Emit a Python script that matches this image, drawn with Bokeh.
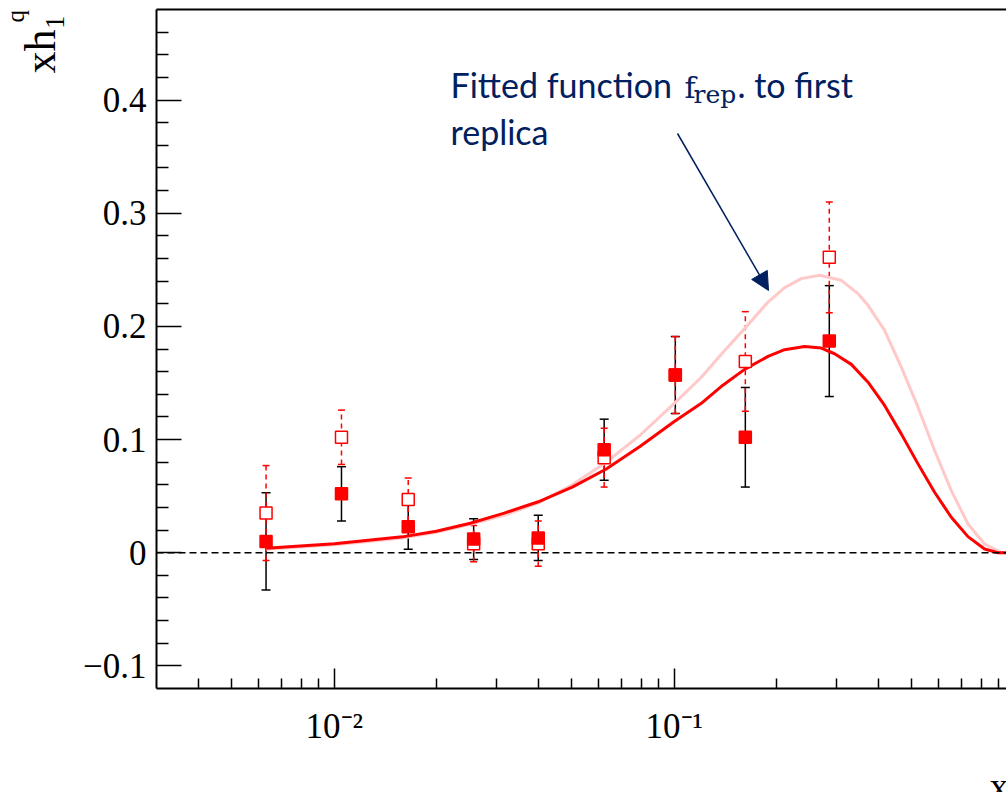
import math
from bokeh.plotting import figure
from bokeh.models import (Range1d, FixedTicker, LogAxis, Span, Label, Arrow,
                          NormalHead, Whisker, TeeHead, ColumnDataSource)
from bokeh.embed import file_html
from bokeh.resources import INLINE

# ---------------- data ----------------
X_PTS = [0.0063, 0.0105, 0.0165, 0.0257, 0.0398, 0.0622, 0.1007, 0.1618, 0.2857]
Y_FILLED = [0.010, 0.052, 0.023, 0.012, 0.013, 0.091, 0.157, 0.102, 0.187]
ERR_FILLED = [0.043, 0.024, 0.020, 0.018, 0.020, 0.027, 0.034, 0.044, 0.049]
Y_OPEN = [0.035, 0.102, 0.047, 0.008, 0.008, 0.084, 0.157, 0.169, 0.261]
ERR_OPEN = [0.042, 0.024, 0.019, 0.016, 0.020, 0.026, 0.034, 0.044, 0.049]

FIT_X = [0.00631, 0.00794, 0.01, 0.01259, 0.01585, 0.01995, 0.02512, 0.03162,
         0.03981, 0.05012, 0.0631, 0.07943, 0.1, 0.1201, 0.1390, 0.1610, 0.1887,
         0.2111, 0.2416, 0.2706, 0.2961, 0.3317, 0.3714, 0.4155, 0.4652, 0.5210,
         0.5830, 0.6527, 0.7307, 0.8177, 0.8957, 1.0]
FIT_Y = [0.004, 0.006, 0.008, 0.011, 0.014, 0.019, 0.026, 0.035, 0.045, 0.058,
         0.074, 0.094, 0.116, 0.132, 0.148, 0.162, 0.1735, 0.1794, 0.1823, 0.1808,
         0.1758, 0.1664, 0.1507, 0.1301, 0.1050, 0.0785, 0.0534, 0.0313, 0.0142,
         0.0033, 0.0, 0.0]
REP_X = [0.00631, 0.00794, 0.01, 0.01259, 0.01585, 0.01995, 0.02512, 0.03162,
         0.03981, 0.05012, 0.0631, 0.07943, 0.1, 0.1201, 0.1390, 0.1610, 0.1887,
         0.2111, 0.2363, 0.2675, 0.3099, 0.3470, 0.3714, 0.4155, 0.4652, 0.5210,
         0.5830, 0.6527, 0.7307, 0.8177, 0.9159, 1.0]
REP_Y = [0.003, 0.005, 0.007, 0.010, 0.013, 0.018, 0.025, 0.033, 0.044, 0.060,
         0.080, 0.104, 0.132, 0.155, 0.177, 0.198, 0.2215, 0.2342, 0.2422, 0.2451,
         0.2407, 0.2289, 0.2186, 0.1965, 0.164, 0.1286, 0.0903, 0.0549, 0.0254,
         0.0077, 0.0, 0.0]

X_MAJOR = [0.001, 0.01, 0.1, 1.0]
X_MINOR = [0.004, 0.005, 0.006, 0.007, 0.008, 0.009,
           0.02, 0.03, 0.04, 0.05, 0.06, 0.07, 0.08, 0.09,
           0.2, 0.3, 0.4, 0.5, 0.6, 0.7, 0.8, 0.9]
X_LABELS = {0.01: "10\u207b\u00b2", 0.1: "10\u207b\u00b9"}
Y_MAJOR = [-0.1, 0.0, 0.1, 0.2, 0.3, 0.4]
Y_LABELS = {-0.1: "\u22120.1", 0: "0", 0.1: "0.1", 0.2: "0.2", 0.3: "0.3", 0.4: "0.4"}
Y_MINOR = [-0.08, -0.06, -0.04, -0.02, 0.02, 0.04, 0.06, 0.08,
           0.12, 0.14, 0.16, 0.18, 0.22, 0.24, 0.26, 0.28,
           0.32, 0.34, 0.36, 0.38, 0.42, 0.44, 0.46]

X_START, DECADES = 0.003, 2.5
Y_START, Y_END = -0.12, 0.48

# ---------------- layout helpers (pixel -> data) ----------------
W, H = 1006, 792
FRAME_L, FRAME_B, FRAME_W, FRAME_H = 156, 688, 850, 679
PX_PER_DEC = FRAME_W / DECADES


def dx(px):
    return 10 ** (math.log10(X_START) + (px - FRAME_L) / PX_PER_DEC)


def dy(py):
    return Y_START + (FRAME_B - py) * (Y_END - Y_START) / FRAME_H


# labels are anchored at the centre of their text box; shift so the
# alphabetic baseline lands where wanted
K_LATO, K_LIB, K_DJV = 0.387, 0.3375, 0.346

NAVY = "#002060"
SERIF = "Liberation Serif"
ANN_FONT = "Lato"

p = figure(width=W, height=H, x_axis_type="log",
           x_range=Range1d(X_START, X_START * 10 ** DECADES),
           y_range=Range1d(Y_START, Y_END),
           output_backend="svg", toolbar_location=None,
           min_border_left=FRAME_L, min_border_right=0,
           min_border_top=FRAME_B - FRAME_H, min_border_bottom=H - FRAME_B)
p.grid.visible = False
p.outline_line_color = None
p.background_fill_color = "white"
p.border_fill_color = "white"

xa = p.xaxis[0]
xa.ticker = FixedTicker(ticks=X_MAJOR, minor_ticks=X_MINOR)
xa.major_label_overrides = X_LABELS
xa.major_tick_in, xa.major_tick_out = 20, 0
xa.minor_tick_in, xa.minor_tick_out = 10, 0
xa.axis_line_width = 2
xa.major_tick_line_width = 1.5
xa.minor_tick_line_width = 1.5
xa.major_label_text_font = SERIF
xa.major_label_text_font_size = "35px"
xa.major_label_text_color = "black"
xa.major_label_standoff = 18

ya = p.yaxis[0]
ya.ticker = FixedTicker(ticks=Y_MAJOR, minor_ticks=Y_MINOR)
ya.major_label_overrides = Y_LABELS
ya.major_tick_in, ya.major_tick_out = 25, 0
ya.minor_tick_in, ya.minor_tick_out = 12, 0
ya.axis_line_width = 2
ya.major_tick_line_width = 1.5
ya.minor_tick_line_width = 1.5
ya.major_label_text_font = SERIF
ya.major_label_text_font_size = "35px"
ya.major_label_text_color = "black"
ya.major_label_standoff = 10

top = LogAxis(ticker=FixedTicker(ticks=[]), major_label_text_font_size="0px",
              major_tick_line_color=None, minor_tick_line_color=None,
              axis_line_width=2, major_label_standoff=0)
p.add_layout(top, "above")

p.add_layout(Span(location=0, dimension="width", line_color="black",
                  line_width=1.5, line_dash="7 4"))

# curves
p.line(REP_X, REP_Y, line_color="#FFC9C9", line_width=3, line_join="round")
p.line(FIT_X, FIT_Y, line_color="#FF0000", line_width=3, line_join="round")

# error bars
src_o = ColumnDataSource(dict(x=X_PTS, y=Y_OPEN,
                              lo=[y - e for y, e in zip(Y_OPEN, ERR_OPEN)],
                              hi=[y + e for y, e in zip(Y_OPEN, ERR_OPEN)]))
src_f = ColumnDataSource(dict(x=X_PTS, y=Y_FILLED,
                              lo=[y - e for y, e in zip(Y_FILLED, ERR_FILLED)],
                              hi=[y + e for y, e in zip(Y_FILLED, ERR_FILLED)]))
p.add_layout(Whisker(source=src_f, base="x", lower="lo", upper="hi", dimension="height",
                     line_color="black", line_width=1.5,
                     upper_head=TeeHead(size=9, line_color="black", line_width=1.5),
                     lower_head=TeeHead(size=9, line_color="black", line_width=1.5)))
p.add_layout(Whisker(source=src_o, base="x", lower="lo", upper="hi", dimension="height",
                     line_color="#FF0000", line_width=1.5, line_dash="5 4",
                     upper_head=TeeHead(size=7, line_color="#FF0000", line_width=1.5),
                     lower_head=TeeHead(size=7, line_color="#FF0000", line_width=1.5)))

p.scatter("x", "y", source=src_o, marker="square", size=12, fill_color="white",
          line_color="#FF0000", line_width=1.5)
p.scatter("x", "y", source=src_f, marker="square", size=12, fill_color="#FF0000",
          line_color="#FF0000", line_width=1.5)

# axis titles (in side panels so they are not clipped to the frame)
p.add_layout(Label(x=dx(55 - K_LIB * 44), y=dy(73), text="xh\u2081", angle=math.pi / 2,
                   text_font=SERIF, text_font_size="44px", text_baseline="alphabetic",
                   text_align="left", text_color="black"), "left")
p.add_layout(Label(x=dx(23 - K_LIB * 25), y=dy(22), text="q", angle=math.pi / 2,
                   text_font=SERIF, text_font_size="25px", text_baseline="alphabetic",
                   text_align="left", text_color="black"), "left")
p.add_layout(Label(x=dx(989), y=dy(798 - K_LIB * 38), text="x",
                   text_font=SERIF, text_font_size="38px", text_baseline="alphabetic",
                   text_align="left", text_color="black"), "below")

# annotation
p.add_layout(Label(x=dx(450), y=dy(97 - K_LATO * 34), text="Fitted function",
                   text_font=ANN_FONT, text_font_size="34px", text_color=NAVY,
                   text_baseline="alphabetic"))
p.add_layout(Label(x=dx(684), y=dy(97 - K_DJV * 30), text="f", text_font="DejaVu Serif",
                   text_font_size="30px", text_color=NAVY, text_baseline="alphabetic"))
p.add_layout(Label(x=dx(693), y=dy(103 - K_DJV * 25), text="rep", text_font="DejaVu Serif",
                   text_font_size="25px", text_color=NAVY, text_baseline="alphabetic"))
p.add_layout(Label(x=dx(737), y=dy(97 - K_LATO * 34), text=". to first",
                   text_font=ANN_FONT, text_font_size="34px", text_color=NAVY,
                   text_baseline="alphabetic"))
p.add_layout(Label(x=dx(450), y=dy(144 - K_LATO * 34), text="replica",
                   text_font=ANN_FONT, text_font_size="34px", text_color=NAVY,
                   text_baseline="alphabetic"))
p.add_layout(Arrow(x_start=dx(677), y_start=dy(133), x_end=dx(768), y_end=dy(290),
                   line_color=NAVY, line_width=1.5,
                   end=NormalHead(size=18, fill_color=NAVY, line_color=NAVY)))

open("out.html", "w").write(file_html(p, INLINE))
